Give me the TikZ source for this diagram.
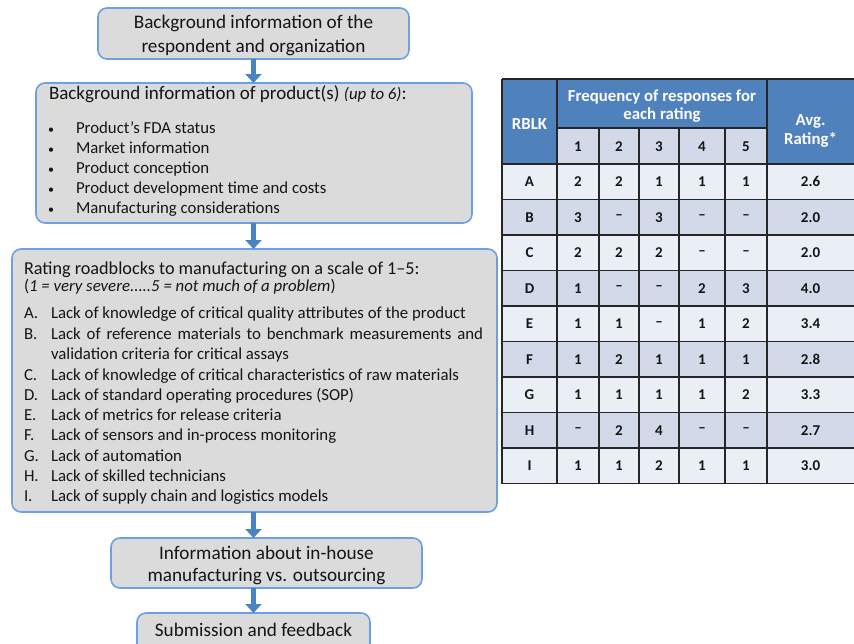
\documentclass[tikz,border=0pt]{standalone}
\usepackage{fontspec}
\setmainfont{Carlito}
\usetikzlibrary{arrows.meta}
\definecolor{boxfill}{HTML}{DBDBDB}
\definecolor{boxline}{HTML}{6F9FE3}
\definecolor{arrowc}{HTML}{4A83C4}
\definecolor{hdr}{HTML}{4F81BD}
\definecolor{bandA}{HTML}{EAEEF5}
\definecolor{bandB}{HTML}{D2DAE9}
\definecolor{txt}{HTML}{151515}
\definecolor{gridc}{HTML}{262626}
\tikzset{
  flowbox/.style={draw=boxline, line width=1.6pt, fill=boxfill, rounded corners=9pt, inner sep=0pt, outer sep=0pt, anchor=north west},
  flowtext/.style={inner sep=0pt, outer sep=0pt, text=txt},
  bigtext/.style={flowtext, anchor=base, font=\fontsize{19.2}{23}\selectfont},
  titletext/.style={flowtext, anchor=base west, font=\fontsize{19}{23}\selectfont},
  itemtext/.style={flowtext, anchor=base west, font=\fontsize{16.8}{20}\selectfont},
  bullettext/.style={flowtext, anchor=base west, font=\fontsize{12}{14}\selectfont},
  flowarrow/.style={draw=arrowc, line width=4.5pt, -{Triangle[width=16pt,length=9pt]}},
  tabtext/.style={inner sep=0pt, outer sep=0pt, font=\bfseries\fontsize{15}{17}\selectfont, text=txt},
  hdrtext/.style={inner sep=0pt, outer sep=0pt, font=\bfseries\fontsize{16.8}{18.5}\selectfont, text=white, align=center},
  gridline/.style={draw=gridc, line width=1.2pt}
}
\begin{document}
\begin{tikzpicture}[x=1pt,y=-1pt]
\useasboundingbox (0,0) rectangle (854,643);

% ---------- flow boxes ----------
\node[flowbox, minimum width=311pt, minimum height=51pt] (b1) at (98,8) {};
\node[flowbox, minimum width=436pt, minimum height=140pt] (b2) at (36,83) {};
\node[flowbox, minimum width=485pt, minimum height=263pt] (b3) at (12,249) {};
\node[flowbox, minimum width=311pt, minimum height=50pt] (b4) at (111,538) {};
\node[flowbox, minimum width=233pt, minimum height=45pt] (b5) at (137,613) {};

% ---------- arrows ----------
\draw[flowarrow] (b1.south) -- (b1.south |- b2.north);
\draw[flowarrow] (b1.south |- b2.south) -- (b1.south |- b3.north);
\draw[flowarrow] (b1.south |- b3.south) -- (b1.south |- b4.north);
\draw[flowarrow] (b1.south |- b4.south) -- (b1.south |- b5.north);

% ---------- box 1 ----------
\node[bigtext] (t1a) at (253.5,28.5) {Background information of the};
\node[bigtext] (t1b) at (253.5,52) {respondent and organization};

% ---------- box 2 ----------
\node[titletext] (t2) at (49,99.5) {Background information of product(s) {\fontsize{16.8}{20}\selectfont\itshape (up to 6)}:};
\foreach \i/\yy/\tx in {1/133.5/Product’s FDA status, 2/153.5/Market information, 3/173/Product conception, 4/193/Product development time and costs, 5/213/Manufacturing considerations}{
  \node[bullettext] (bu\i) at (48,\yy) {\textbullet};
  \node[itemtext] (it\i) at (76,\yy) {\tx};
}

% ---------- box 3 ----------
\node[titletext, font=\fontsize{18.2}{22}\selectfont] (t3) at (24,274.3) {Rating roadblocks to manufacturing on a scale of 1–5:};
\node[itemtext] (t3s) at (24,291) {(\textit{1 = very severe.....5 = not much of a problem})};
\foreach \i/\yy/\lt/\tx in {
  1/318.3/A./Lack of knowledge of critical quality attributes of the product,
  3/359.5/{}/validation criteria for critical assays,
  4/380/C./Lack of knowledge of critical characteristics of raw materials,
  5/400.3/D./Lack of standard operating procedures (SOP),
  6/420.5/E./Lack of metrics for release criteria,
  7/440.8/F./Lack of sensors and in-process monitoring,
  8/461/G./Lack of automation,
  9/481.2/H./Lack of skilled technicians,
  10/501.5/I./Lack of supply chain and logistics models}{
  \node[itemtext] (rl\i) at (24,\yy) {\lt};
  \node[itemtext] (rt\i) at (51,\yy) {\tx};
}
\node[itemtext] (rl2) at (24,339.2) {B.};
\node[itemtext] (rt2) at (51,339.2) {\makebox[432pt][s]{Lack of reference materials to benchmark measurements and}};

% ---------- box 4 and 5 ----------
\node[bigtext] (t4a) at (266.5,559.3) {Information about in-house};
\node[bigtext] (t4b) at (266.5,581.7) {manufacturing vs. outsourcing};
\node[bigtext] (t5) at (253.5,636.7) {Submission and feedback};

% ---------- table ----------
\fill[hdr] (502,79) rectangle (860,164);
\fill[bandB] (557,128) rectangle (767,164);
\foreach \r in {1,...,9}{
  \pgfmathsetmacro\ya{164+35.5*(\r-1)}
  \pgfmathsetmacro\yb{164+35.5*\r}
  \ifodd\r
    \fill[bandA] (502,\ya) rectangle (860,\yb);
  \else
    \fill[bandB] (502,\ya) rectangle (860,\yb);
  \fi
}
% grid
\draw[gridline] (502,79) -- (860,79);
\draw[gridline] (557,128) -- (767,128);
\foreach \r in {0,...,9}{
  \pgfmathsetmacro\yy{164+35.5*\r}
  \draw[gridline] (502,\yy) -- (860,\yy);
}
\draw[gridline] (502,79) -- (502,483.5);
\draw[gridline] (557,79) -- (557,483.5);
\draw[gridline] (767,79) -- (767,483.5);
\foreach \xx in {599,639,679,725}{
  \draw[gridline] (\xx,128) -- (\xx,483.5);
}
% header text
\node[hdrtext] (hR) at (529.5,124) {RBLK};
\node[hdrtext] (hF) at (662,106) {Frequency of responses for\\each rating};
\node[hdrtext] (hA) at (810.5,131) {Avg.\\Rating*};
\foreach \c/\xx in {1/578,2/619,3/659,4/702,5/746}{
  \node[tabtext] (h\c) at (\xx,146.5) {\c};
}
% body
\foreach \r/\lab/\a/\b/\c/\d/\e/\av in {
  1/A/2/2/1/1/1/2.6,
  2/B/3/–/3/–/–/2.0,
  3/C/2/2/2/–/–/2.0,
  4/D/1/–/–/2/3/4.0,
  5/E/1/1/–/1/2/3.4,
  6/F/1/2/1/1/1/2.8,
  7/G/1/1/1/1/2/3.3,
  8/H/–/2/4/–/–/2.7,
  9/I/1/1/2/1/1/3.0}{
  \pgfmathsetmacro\yc{164+35.5*(\r-0.5)}
  \node[tabtext] (c\r-0) at (529.5,\yc) {\lab};
  \node[tabtext] (c\r-1) at (578,\yc) {\a};
  \node[tabtext] (c\r-2) at (619,\yc) {\b};
  \node[tabtext] (c\r-3) at (659,\yc) {\c};
  \node[tabtext] (c\r-4) at (702,\yc) {\d};
  \node[tabtext] (c\r-5) at (746,\yc) {\e};
  \node[tabtext] (c\r-6) at (810.5,\yc) {\av};
}
\end{tikzpicture}
\end{document}
